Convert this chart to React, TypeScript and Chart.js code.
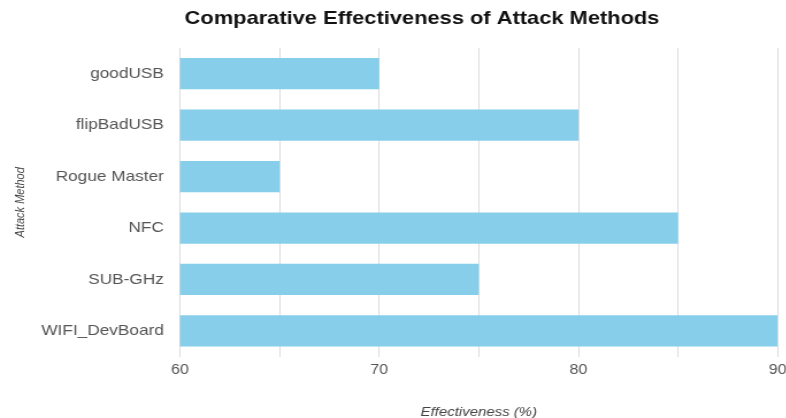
import React, { useEffect, useRef } from "react";
import { Chart, registerables } from "chart.js";

Chart.register(...registerables);

const chartTitle = "Comparative Effectiveness of Attack Methods";
const categories = ["goodUSB", "flipBadUSB", "Rogue Master", "NFC", "SUB-GHz", "WIFI_DevBoard"];
const effectiveness = [70, 80, 65, 85, 75, 90];
const xAxisTitle = "Effectiveness (%)";
const yAxisTitle = "Attack Method";
const xMin = 60;
const xMax = 90;
const gridStep = 5;
const labelStep = 10;

const FONT = '"Liberation Sans", Arial, Helvetica, sans-serif';
const STRETCH = 1.15;

export default function App() {
  const ref = useRef<HTMLCanvasElement | null>(null);

  useEffect(() => {
    document.body.style.margin = "0";
    if (!ref.current) return;
    const titlePlugin = {
      id: "offsetTitle",
      afterDraw(chart: any) {
        const ctx = chart.ctx;
        ctx.save();
        ctx.font = `bold 19px ${FONT}`;
        ctx.fillStyle = "#111";
        ctx.textAlign = "center";
        ctx.textBaseline = "middle";
        ctx.fillText(chartTitle, 360, 10.5);
        ctx.restore();
      },
    };
    const chart = new Chart(ref.current, {
      type: "bar",
      data: {
        labels: categories,
        datasets: [
          {
            label: "Effectiveness",
            data: effectiveness,
            backgroundColor: "#87CEEB",
            borderWidth: 0,
            categoryPercentage: 0.8,
            barPercentage: 0.76,
          },
        ],
      },
      options: {
        indexAxis: "y",
        animation: false,
        responsive: true,
        maintainAspectRatio: false,
        layout: { padding: { top: 40, left: 0, right: 0, bottom: 0 } },
        plugins: {
          legend: { display: false },
          title: { display: false },
          tooltip: { enabled: false },
        },
        scales: {
          x: {
            min: xMin,
            max: xMax,
            ticks: {
              stepSize: gridStep,
              padding: 5,
              color: "#555",
              font: { family: FONT, size: 14 },
              callback: (v: any) => (Number(v) % labelStep === 0 ? String(v) : ""),
            },
            grid: { color: "#dcdcdc", lineWidth: 1, drawTicks: false },
            border: { display: false },
            title: {
              display: true,
              text: xAxisTitle,
              color: "#444",
              font: { family: FONT, size: 13, style: "italic" },
              padding: { top: 21, bottom: 0 },
            },
          },
          y: {
            ticks: {
              padding: 14,
              color: "#555",
              font: { family: FONT, size: 15 },
            },
            grid: { display: false, drawTicks: false },
            border: { display: false },
            title: {
              display: true,
              text: yAxisTitle,
              color: "#444",
              font: { family: FONT, size: 11, style: "italic" },
              padding: { top: 4, bottom: 4 },
            },
            afterFit: (scale: any) => {
              scale.width = 149.6;
            },
          },
        },
      },
      plugins: [titlePlugin],
    });
    return () => chart.destroy();
  }, []);

  return (
    <div
      style={{
        width: 786,
        height: 418,
        overflow: "hidden",
        position: "relative",
        background: "#fff",
      }}
    >
      <div
        style={{
          position: "absolute",
          left: 8,
          top: 8,
          width: 682,
          height: 412,
          transform: `scaleX(${STRETCH})`,
          transformOrigin: "0 0",
        }}
      >
        <canvas ref={ref} />
      </div>
    </div>
  );
}
